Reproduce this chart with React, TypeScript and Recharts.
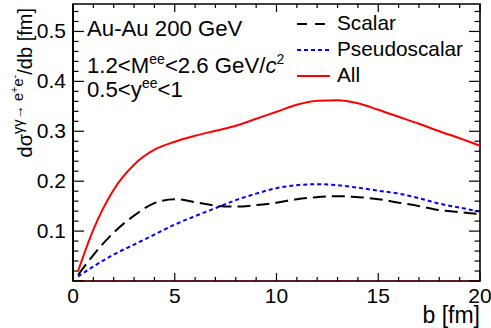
import { Line, LineChart, ReferenceArea, XAxis, YAxis } from "recharts";

const impactB = [0.25, 1, 2, 3, 4, 5, 6, 7, 8, 9, 10, 11, 12, 13, 14, 15, 16, 17, 18, 19, 20];
const scalar = [0.012, 0.052, 0.097, 0.131, 0.156, 0.164, 0.158, 0.151, 0.149, 0.152, 0.157, 0.164, 0.168, 0.17, 0.168, 0.164, 0.157, 0.15, 0.142, 0.138, 0.134];
const pseudoscalar = [0.009, 0.029, 0.053, 0.073, 0.093, 0.113, 0.13, 0.146, 0.162, 0.175, 0.186, 0.192, 0.194, 0.192, 0.187, 0.181, 0.175, 0.166, 0.155, 0.147, 0.139];
const all = [0.02, 0.103, 0.183, 0.233, 0.263, 0.279, 0.291, 0.301, 0.311, 0.325, 0.339, 0.353, 0.361, 0.362, 0.356, 0.343, 0.329, 0.315, 0.3, 0.286, 0.271];

const xTicks = [0, 1, 2, 3, 4, 5, 6, 7, 8, 9, 10, 11, 12, 13, 14, 15, 16, 17, 18, 19, 20];
const yTicks = [0, 0.02, 0.04, 0.06, 0.08, 0.1, 0.12, 0.14, 0.16, 0.18, 0.2, 0.22, 0.24, 0.26, 0.28, 0.3, 0.32, 0.34, 0.36, 0.38, 0.4, 0.42, 0.44, 0.46, 0.48, 0.5, 0.52, 0.54];
const Y_MAX = 0.555;

const W = 491;
const H = 328;
const PLOT = { left: 73, right: 480, top: 4, bottom: 281 };
const FONT = "'Liberation Sans', Arial, Helvetica, sans-serif";

const data = impactB.map((b, i) => ({
  b,
  scalar: scalar[i],
  pseudo: pseudoscalar[i],
  all: all[i],
}));

const legendItems = [
  { name: "Scalar", color: "#000000", dash: "10 8" },
  { name: "Pseudoscalar", color: "#0000ff", dash: "4 3" },
  { name: "All", color: "#ff0000", dash: undefined },
];

function YTick(props: any) {
  const { y, payload } = props;
  const v = payload.value as number;
  const major = Math.abs(v * 10 - Math.round(v * 10)) < 1e-6;
  const len = major ? 11 : 5.5;
  return (
    <g>
      <line x1={PLOT.left} x2={PLOT.left + len} y1={y} y2={y} stroke="#000" strokeWidth={1.2} />
      <line x1={PLOT.right - len} x2={PLOT.right} y1={y} y2={y} stroke="#000" strokeWidth={1.2} />
      {major && v > 0 && (
        <text x={66} y={y} dy={7} textAnchor="end" fontSize={21} fontFamily={FONT} fill="#000">
          {v.toFixed(1)}
        </text>
      )}
    </g>
  );
}

function XTick(props: any) {
  const { x, payload } = props;
  const v = payload.value as number;
  const major = v % 5 === 0;
  const len = major ? 8 : 4;
  return (
    <g>
      <line x1={x} x2={x} y1={PLOT.bottom} y2={PLOT.bottom - len} stroke="#000" strokeWidth={1.2} />
      <line x1={x} x2={x} y1={PLOT.top} y2={PLOT.top + len} stroke="#000" strokeWidth={1.2} />
      {major && (
        <text x={x} y={302.5} textAnchor="middle" fontSize={21} fontFamily={FONT} fill="#000">
          {v}
        </text>
      )}
    </g>
  );
}

export default function App() {
  return (
    <div style={{ position: "relative", width: W, height: H, background: "#fff", fontFamily: FONT }}>
      <style>{`body{margin:0}`}</style>
      <LineChart
        width={W}
        height={H}
        data={data}
        margin={{ top: PLOT.top, right: W - PLOT.right, bottom: 0, left: 0 }}
      >
        <ReferenceArea x1={0} x2={20} y1={0} y2={Y_MAX} fill="none" stroke="#000" strokeWidth={1.6} />
        <XAxis
          dataKey="b"
          type="number"
          domain={[0, 20]}
          ticks={xTicks}
          interval={0}
          height={H - PLOT.bottom}
          tick={<XTick />}
          tickLine={false}
          axisLine={{ stroke: "#5e1c1c", strokeWidth: 2 }}
        />
        <YAxis
          type="number"
          domain={[0, Y_MAX]}
          ticks={yTicks}
          interval={0}
          width={PLOT.left}
          tick={<YTick />}
          tickLine={false}
          axisLine={{ stroke: "#000", strokeWidth: 2 }}
        />
        <Line dataKey="all" type="monotone" stroke="#ff0000" strokeWidth={2} dot={false} isAnimationActive={false} />
        <Line dataKey="pseudo" type="monotone" stroke="#0000ff" strokeWidth={2} strokeDasharray="4 3" dot={false} isAnimationActive={false} />
        <Line dataKey="scalar" type="monotone" stroke="#000000" strokeWidth={2} strokeDasharray="13 6" dot={false} isAnimationActive={false} />
      </LineChart>

      <svg width={W} height={H} style={{ position: "absolute", left: 0, top: 0, pointerEvents: "none" }}>
        <g fontFamily={FONT} fill="#000">
          <text transform="translate(32,8) rotate(-90)" textAnchor="end" fontSize={20}>
            dσ
            <tspan fontSize={14.5} dy={-9}>γγ→ e</tspan>
            <tspan fontSize={11} dy={-5}>+</tspan>
            <tspan fontSize={14.5} dy={5}>e</tspan>
            <tspan fontSize={11} dy={-5}>-</tspan>
            <tspan fontSize={20} dy={14}>/db [fm]</tspan>
          </text>

          <text x={87} y={36} fontSize={22.2}>Au-Au 200 GeV</text>
          <text x={87} y={73.3} fontSize={22.2}>
            1.2&lt;M
            <tspan fontSize={14} dy={-9}>ee</tspan>
            <tspan dy={9}>&lt;2.6 GeV/</tspan>
            <tspan fontStyle="italic">c</tspan>
            <tspan fontSize={14} dy={-9}>2</tspan>
          </text>
          <text x={87} y={97.3} fontSize={22.2}>
            0.5&lt;y
            <tspan fontSize={14} dy={-9}>ee</tspan>
            <tspan dy={9}>&lt;1</tspan>
          </text>

          {legendItems.map((item, i) => (
            <g key={item.name}>
              <line
                x1={297}
                x2={330}
                y1={24 + i * 26}
                y2={24 + i * 26}
                stroke={item.color}
                strokeWidth={2}
                strokeDasharray={item.dash}
              />
              <text x={337} y={29.5 + i * 26} fontSize={20.8}>{item.name}</text>
            </g>
          ))}

          <text x={480} y={323} textAnchor="end" fontSize={23}>b [fm]</text>
        </g>
      </svg>
    </div>
  );
}
